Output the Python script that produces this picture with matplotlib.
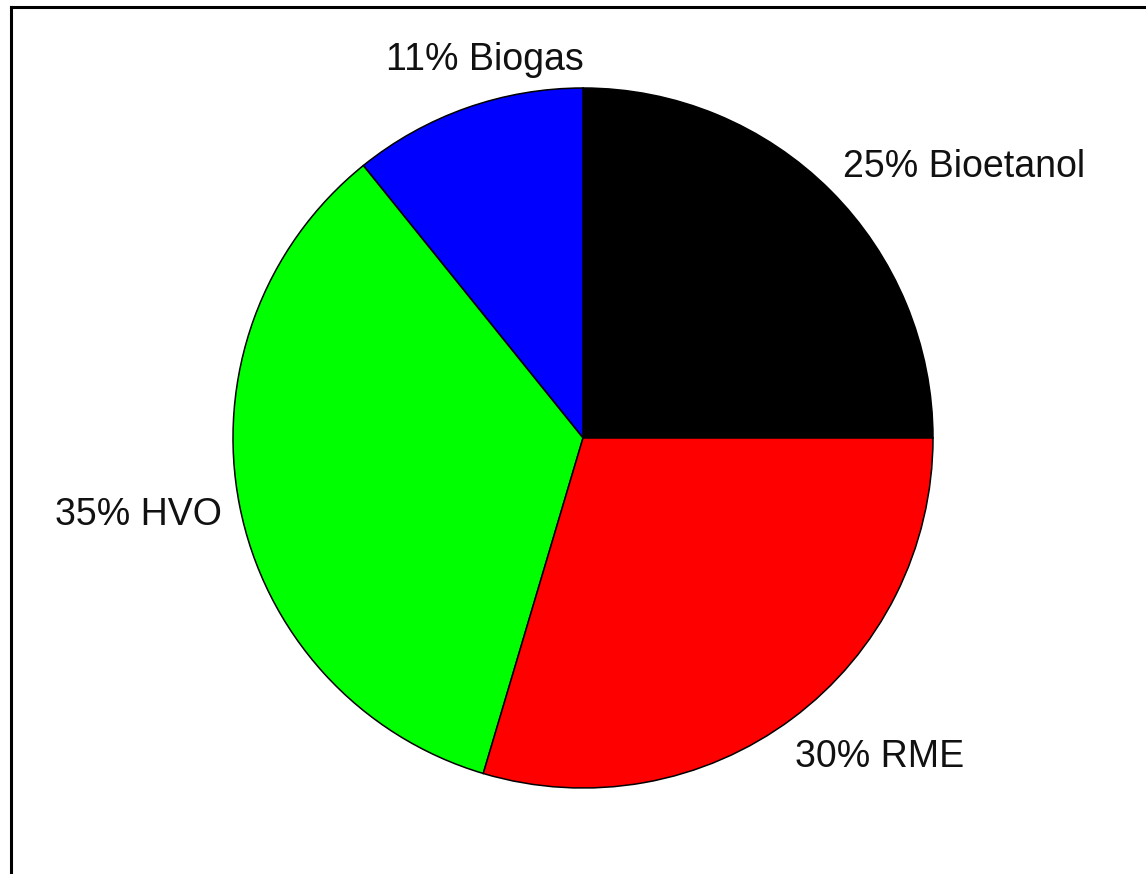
import numpy as np
import matplotlib
matplotlib.use("Agg")
import matplotlib.pyplot as plt
from matplotlib.lines import Line2D

plt.rcParams["font.family"] = ["Liberation Sans", "DejaVu Sans"]

# andelar (uppskattade från bilden) och etiketter
fuels = ["Bioetanol", "Biogas", "HVO", "RME"]
shares = [25.0, 10.8, 34.6, 29.6]
pct_labels = ["25%", "11%", "35%", "30%"]
colors = ["black", "blue", "#00ff00", "red"]

W, H = 1146, 874
cx, cy, r = 583, 438, 350  # pixel center/radius

fig = plt.figure(figsize=(W / 100, H / 100), dpi=100)
ax = fig.add_axes([0, 0, 1, 1])

labels = [p + " " + f for p, f in zip(pct_labels, fuels)]
wedges, texts = ax.pie(shares, colors=colors, labels=labels, startangle=0,
                       counterclock=True, labeldistance=1.1,
                       wedgeprops=dict(edgecolor="black", linewidth=1.1),
                       textprops=dict(fontsize=27, color="#111111"))

# finjustera etiketternas placering
label_pos = {
    "Bioetanol": (0.743, 0.774, "left"),
    "Biogas": (-0.28, 1.08, "center"),
    "HVO": (-1.031, -0.22, "right"),
    "RME": (0.606, -0.911, "left"),
}
for t, f in zip(texts, fuels):
    x, y, ha = label_pos[f]
    t.set_position((x, y))
    t.set_ha(ha)
    t.set_va("center")

ax.set_xlim(-cx / r, (W - cx) / r)
ax.set_ylim(-(H - cy) / r, cy / r)
ax.set_aspect("auto")
ax.axis("off")

# ram (bara vänster och övre kant syns)
fig.add_artist(Line2D([10.5 / W, 10.5 / W], [0, 1 - 7 / H], transform=fig.transFigure,
                      color="black", linewidth=2.2))
fig.add_artist(Line2D([10.5 / W, 1], [1 - 7 / H, 1 - 7 / H], transform=fig.transFigure,
                      color="black", linewidth=2.2))

fig.savefig("out.png", dpi=100, facecolor="white")
